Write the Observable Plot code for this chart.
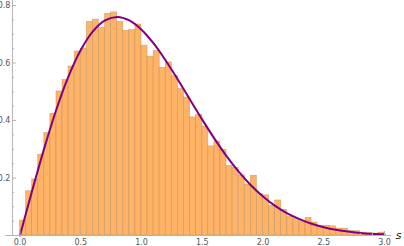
<!DOCTYPE html>
<html><head><meta charset="utf-8">
<script src="https://cdn.jsdelivr.net/npm/d3@7"></script>
<script src="https://cdn.jsdelivr.net/npm/@observablehq/plot@0.6"></script>
<style>body{margin:0;background:#fff;font-family:"DejaVu Sans",sans-serif}</style>
</head><body><div id="chart"></div>
<script>
// histogram (normalized density), bins of width 0.05 from 0 to 3.0
const binWidth = 0.05;
const density = [
  0.052, 0.154, 0.195, 0.281, 0.357, 0.423, 0.501, 0.541, 0.588, 0.640,
  0.650, 0.743, 0.751, 0.722, 0.771, 0.776, 0.743, 0.712, 0.715, 0.734,
  0.660, 0.622, 0.642, 0.583, 0.602, 0.555, 0.510, 0.480, 0.411, 0.420,
  0.379, 0.310, 0.327, 0.298, 0.242, 0.235, 0.209, 0.177, 0.208, 0.145,
  0.140, 0.103, 0.122, 0.089, 0.066, 0.058, 0.049, 0.061, 0.045, 0.034,
  0.034, 0.032, 0.024, 0.024, 0.015, 0.015, 0.010, 0.008, 0.006, 0.010
];
// fitted curve
const curveS = [0,0.1,0.2,0.3,0.4,0.5,0.6,0.7,0.8,0.9,1.0,1.1,1.2,1.3,1.4,1.5,1.6,1.7,1.8,1.9,2.0,2.1,2.2,2.3,2.4,2.5,2.6,2.7,2.8,2.9,3.0];
const curveP = [0,0.156,0.304,0.439,0.554,0.645,0.710,0.748,0.760,0.748,0.716,0.668,0.608,0.542,0.472,0.403,0.337,0.276,0.222,0.175,0.136,0.103,0.077,0.057,0.041,0.029,0.020,0.014,0.009,0.006,0.004];
const xTicks = [0, 0.5, 1.0, 1.5, 2.0, 2.5, 3.0];
const xMinor = [0.1,0.2,0.3,0.4,0.6,0.7,0.8,0.9,1.1,1.2,1.3,1.4,1.6,1.7,1.8,1.9,2.1,2.2,2.3,2.4,2.6,2.7,2.8,2.9];
const yTicks = [0.2, 0.4, 0.6, 0.8];
const yMinor = [0.05,0.1,0.15,0.25,0.3,0.35,0.45,0.5,0.55,0.65,0.7,0.75];
const xLabel = "s";

const bins = density.map((p, i) => ({x1: i * binWidth, x2: (i + 1) * binWidth, p}));
const curve = curveS.map((s, i) => ({s, p: curveP[i]}));

const xMin = -0.062, xAxisStart = -0.119, xMax = 3.06, yMax = 0.817;
const axisColor = "#b4b4b4", labelColor = "#555";

const chart = Plot.plot({
  width: 404, height: 246,
  marginTop: 0, marginRight: 0, marginBottom: 0, marginLeft: 0,
  x: {domain: [0, 3], range: [19.5, 384], axis: null},
  y: {domain: [0, 0.8], range: [235, 5], axis: null},
  style: {fontFamily: "DejaVu Sans, sans-serif", background: "#fff"},
  marks: [
    Plot.rect(bins, {x1: "x1", x2: "x2", y1: 0, y2: "p", fill: "#ffb366", stroke: "#b08658", strokeOpacity: 0.55, strokeWidth: 0.7}),
    Plot.line(curve, {x: "s", y: "p", stroke: "#800080", strokeWidth: 2, curve: "catmull-rom"}),
    Plot.ruleY([0], {x1: xAxisStart, x2: xMax, stroke: axisColor}),
    Plot.ruleX([xMin], {y1: 0, y2: yMax, stroke: axisColor}),
    Plot.ruleX(xTicks, {x: d => d, y1: 0, y2: 0.014, stroke: axisColor}),
    Plot.ruleX(xMinor, {x: d => d, y1: 0, y2: 0.007, stroke: axisColor}),
    Plot.ruleY(yTicks, {y: d => d, x1: xMin, x2: xMin + 0.033, stroke: axisColor}),
    Plot.ruleY(yMinor, {y: d => d, x1: xMin, x2: xMin + 0.017, stroke: axisColor}),
    Plot.text(xTicks, {x: d => d, y: 0, text: d => d3.format(".1f")(d), dy: 7, fontSize: 8, fill: labelColor, lineAnchor: "middle"}),
    Plot.text(yTicks, {x: xMin, y: d => d, text: d => d3.format(".1f")(d), dx: -2, textAnchor: "end", fontSize: 8, fill: labelColor}),
    Plot.text([xLabel], {x: xMax, y: 0, text: d => d, dx: 4, dy: 0, textAnchor: "start", fontSize: 11, fontStyle: "italic", fill: "#222"})
  ]
});
document.getElementById("chart").append(chart);
</script>
</body></html>
